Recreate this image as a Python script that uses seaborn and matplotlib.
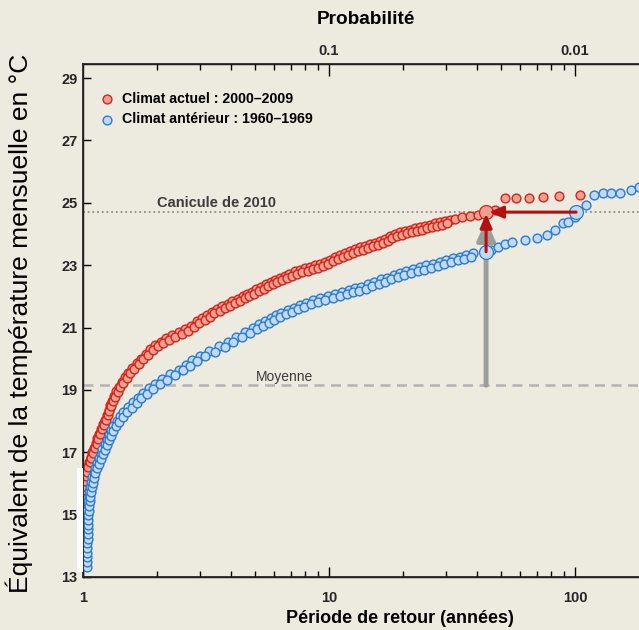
import matplotlib
matplotlib.use("Agg")
import matplotlib.pyplot as plt
from matplotlib.patches import Rectangle
from matplotlib.ticker import FixedLocator, FixedFormatter, NullFormatter
import seaborn as sns
import pandas as pd

# ---- data -------------------------------------------------------------
# Climat actuel : 2000-2009  (return period in years, temperature in °C)
actuel_periode = [
    1.000, 1.005, 1.012, 1.02, 1.03, 1.045, 1.06, 1.075, 1.09, 1.105,
    1.125, 1.145, 1.165, 1.185, 1.21, 1.23, 1.25, 1.27, 1.29, 1.31,
    1.335, 1.365, 1.40, 1.44, 1.48, 1.53, 1.58, 1.65, 1.72, 1.80,
    1.88, 1.97, 2.07, 2.18, 2.30, 2.45, 2.60, 2.75, 2.9, 3.05,
    3.2, 3.35, 3.5, 3.68, 3.87, 4.05, 4.25, 4.45, 4.65, 4.85,
    5.05, 5.3, 5.55, 5.8, 6.05, 6.3, 6.6, 6.9, 7.25, 7.6,
    8.0, 8.4, 8.8, 9.2, 9.65, 10.1, 10.6, 11.1, 11.6, 12.2,
    12.8, 13.4, 14.0, 14.7, 15.4, 16.1, 16.9, 17.7, 18.5, 19.4,
    20.3, 21.3, 22.3, 23.4, 24.5, 25.7, 26.9, 28.2, 29.5, 31.0,
    32.5, 34.6, 37.4, 40.2, 43.1, 47.3, 52, 57.6, 65, 74,
    86, 105,
    # second half of the sample
    1.002, 1.008, 1.016, 1.025, 1.037, 1.052, 1.067, 1.082, 1.097, 1.115,
    1.135, 1.155, 1.175, 1.197, 1.22, 1.24, 1.26, 1.28, 1.30, 1.322,
    1.35, 1.382, 1.42, 1.46, 1.505, 1.555, 1.615, 1.685, 1.76, 1.84,
    1.925, 2.02, 2.12, 2.24, 2.37, 2.52, 2.67, 2.82, 2.97, 3.12,
    3.27, 3.42, 3.59, 3.77, 3.96, 4.15, 4.35, 4.55, 4.75, 4.95,
    5.17, 5.42, 5.67, 5.92, 6.17, 6.45, 6.75, 7.07, 7.42, 7.8,
    8.2, 8.6, 9.0, 9.42, 9.87, 10.35, 10.85, 11.35, 11.9, 12.5,
    13.1, 13.7, 14.35, 15.05, 15.75, 16.5, 17.3, 18.1, 18.95, 19.85,
    20.8, 21.8, 22.85, 23.95, 25.1, 26.3, 27.55, 28.85, 30.2,
]
actuel_temp = [
    15.8, 15.95, 16.1, 16.25, 16.4, 16.55, 16.7, 16.85, 17.0, 17.15,
    17.3, 17.45, 17.6, 17.75, 17.9, 18.05, 18.2, 18.35, 18.5, 18.65,
    18.8, 18.95, 19.1, 19.25, 19.4, 19.55, 19.7, 19.85, 20.0, 20.15,
    20.3, 20.45, 20.55, 20.65, 20.75, 20.85, 20.95, 21.05, 21.2, 21.3,
    21.4, 21.5, 21.6, 21.68, 21.76, 21.84, 21.92, 22.0, 22.08, 22.15,
    22.22, 22.3, 22.38, 22.45, 22.52, 22.6, 22.66, 22.72, 22.8, 22.86,
    22.9, 22.95, 23.0, 23.04, 23.1, 23.18, 23.26, 23.33, 23.4, 23.46,
    23.52, 23.57, 23.62, 23.67, 23.72, 23.77, 23.85, 23.93, 24.0, 24.05,
    24.1, 24.14, 24.18, 24.22, 24.26, 24.3, 24.34, 24.38, 24.42, 24.45,
    24.49, 24.54, 24.56, 24.62, 24.71, 24.78, 25.16, 25.16, 25.16, 25.19,
    25.22, 25.26,
    # second half of the sample
    15.78, 15.93, 16.08, 16.23, 16.38, 16.53, 16.68, 16.83, 16.98, 17.13,
    17.28, 17.43, 17.58, 17.73, 17.88, 18.03, 18.18, 18.33, 18.48, 18.63,
    18.78, 18.93, 19.08, 19.23, 19.38, 19.53, 19.68, 19.83, 19.98, 20.13,
    20.28, 20.40, 20.50, 20.60, 20.70, 20.80, 20.90, 21.03, 21.15, 21.25,
    21.35, 21.45, 21.54, 21.62, 21.70, 21.78, 21.86, 21.94, 22.02, 22.08,
    22.16, 22.24, 22.32, 22.38, 22.46, 22.53, 22.59, 22.66, 22.73, 22.78,
    22.82, 22.88, 22.92, 22.97, 23.04, 23.12, 23.20, 23.26, 23.33, 23.39,
    23.44, 23.50, 23.54, 23.60, 23.64, 23.71, 23.79, 23.86, 23.92, 23.98,
    24.02, 24.06, 24.10, 24.14, 24.18, 24.22, 24.26, 24.30, 24.34,
]

# Climat antérieur : 1960-1969
anterieur_periode = [
    1.030, 1.030, 1.031, 1.031, 1.032, 1.032, 1.033, 1.034, 1.035, 1.036,
    1.037, 1.038, 1.040, 1.045, 1.05, 1.055, 1.06, 1.068, 1.08, 1.09,
    1.105, 1.12, 1.14, 1.16, 1.18, 1.20, 1.225, 1.25, 1.275, 1.30,
    1.33, 1.37, 1.41, 1.46, 1.52, 1.60, 1.67, 1.75, 1.85, 1.97,
    2.10, 2.25, 2.45, 2.62, 2.78, 2.98, 3.25, 3.57, 3.88, 4.2,
    4.55, 4.91, 5.2, 5.5, 5.8, 6.1, 6.4, 6.8, 7.2, 7.6,
    8.1, 8.6, 9.2, 9.9, 10.6, 11.3, 12.1, 12.8, 13.5, 14.4,
    15.3, 16.2, 17.2, 18.3, 19.4, 20.6, 22.0, 23.4, 24.9, 26.5,
    28.2, 30.0, 32.0, 34.0, 36.2, 38.4, 43.0, 45.5, 48.7, 52.0,
    55.5, 62.6, 70, 76.8, 82.7, 89.6, 93.6, 100, 111, 120,
    130, 140, 152, 169, 182,
    # second half of the sample
    1.040, 1.041, 1.041, 1.042, 1.042, 1.043, 1.044, 1.045, 1.046, 1.047,
    1.048, 1.049, 1.053, 1.058, 1.063, 1.068, 1.074, 1.084, 1.095, 1.108,
    1.123, 1.141, 1.161, 1.181, 1.202, 1.225, 1.25, 1.275, 1.30, 1.328,
    1.363, 1.403, 1.449, 1.505, 1.575, 1.651, 1.727, 1.817, 1.929, 2.054,
    2.195, 2.371, 2.56, 2.72, 2.906, 3.14, 3.44, 3.76, 4.07, 4.41,
    4.77, 5.1, 5.4, 5.7, 6.0, 6.3, 6.66, 7.06, 7.47, 7.92,
    8.43, 8.98, 9.63, 10.35, 11.06, 11.81, 12.56, 13.28, 14.08, 14.99,
    15.9, 16.86, 17.9, 19.04, 20.19, 21.5, 22.9, 24.39, 25.96, 27.62,
    29.38, 31.3, 33.3, 35.4, 37.6,
]
anterieur_temp = [
    13.35, 13.5, 13.65, 13.8, 13.95, 14.1, 14.25, 14.4, 14.55, 14.7,
    14.85, 15.0, 15.15, 15.3, 15.45, 15.6, 15.75, 15.9, 16.05, 16.2,
    16.35, 16.5, 16.65, 16.8, 16.95, 17.1, 17.25, 17.4, 17.55, 17.7,
    17.85, 18.0, 18.15, 18.3, 18.45, 18.6, 18.75, 18.9, 19.05, 19.2,
    19.35, 19.5, 19.65, 19.8, 19.95, 20.1, 20.25, 20.4, 20.55, 20.7,
    20.85, 21.0, 21.1, 21.2, 21.3, 21.4, 21.48, 21.56, 21.64, 21.72,
    21.8, 21.88, 21.96, 22.02, 22.08, 22.14, 22.2, 22.26, 22.31, 22.38,
    22.46, 22.54, 22.6, 22.68, 22.76, 22.82, 22.88, 22.93, 22.99, 23.05,
    23.11, 23.18, 23.24, 23.27, 23.33, 23.4, 23.43, 23.5, 23.59, 23.68,
    23.75, 23.82, 23.88, 23.98, 24.14, 24.36, 24.39, 24.55, 24.94, 25.26,
    25.32, 25.32, 25.32, 25.42, 25.51,
    # second half of the sample
    13.33, 13.48, 13.63, 13.78, 13.93, 14.08, 14.23, 14.38, 14.53, 14.68,
    14.83, 14.98, 15.13, 15.28, 15.43, 15.58, 15.73, 15.88, 16.03, 16.18,
    16.33, 16.48, 16.63, 16.78, 16.93, 17.08, 17.23, 17.38, 17.53, 17.68,
    17.83, 17.98, 18.13, 18.28, 18.43, 18.58, 18.73, 18.88, 19.03, 19.18,
    19.33, 19.48, 19.63, 19.78, 19.93, 20.08, 20.23, 20.38, 20.53, 20.68,
    20.83, 20.95, 21.05, 21.15, 21.25, 21.34, 21.42, 21.5, 21.58, 21.66,
    21.74, 21.82, 21.89, 21.95, 22.01, 22.07, 22.13, 22.185, 22.245, 22.32,
    22.4, 22.47, 22.54, 22.62, 22.69, 22.75, 22.805, 22.86, 22.92, 22.98,
    23.045, 23.11, 23.155, 23.2, 23.265,
]

# 2010 heat wave: equivalent temperature and its return period in each climate
canicule_2010 = 24.7
moyenne = 19.15
periode_2010_actuel = 43.5
periode_2010_anterieur = 101.0
temp_anterieur_a_43ans = 23.43

label_actuel = "Climat actuel : 2000–2009"
label_anterieur = "Climat antérieur : 1960–1969"
x_ticks = [1, 10, 100]
x_ticklabels = ["1", "10", "100"]
prob_ticks = [10, 100]
prob_ticklabels = ["0.1", "0.01"]
y_ticks = [13, 15, 17, 19, 21, 23, 25, 27, 29]

# ---- style ------------------------------------------------------------
BG = "#edeae0"
RED_FILL, RED_EDGE = "#e9a290", "#d6221a"
BLUE_FILL, BLUE_EDGE = "#c2d9f1", "#287cd0"
ARROW_RED = "#b3100f"

sns.set_theme(style="white")
FONT = ["Liberation Sans", "DejaVu Sans"]
plt.rcParams["font.family"] = FONT
plt.rcParams["text.color"] = "black"
plt.rcParams["axes.labelcolor"] = "black"

fig = plt.figure(figsize=(6.39, 6.30), dpi=100, facecolor=BG)
ax = fig.add_axes([83 / 639, 1 - 577 / 630, 556 / 639, (577 - 64) / 630])
ax.set_facecolor(BG)

df_actuel = pd.DataFrame({"periode": actuel_periode, "temp": actuel_temp})
df_anterieur = pd.DataFrame({"periode": anterieur_periode, "temp": anterieur_temp})

sns.scatterplot(data=df_actuel, x="periode", y="temp", ax=ax, s=40,
                color=RED_FILL, edgecolor=RED_EDGE, linewidth=1.0,
                label=label_actuel, zorder=3)
sns.scatterplot(data=df_anterieur, x="periode", y="temp", ax=ax, s=40,
                color=BLUE_FILL, edgecolor=BLUE_EDGE, linewidth=1.0,
                label=label_anterieur, zorder=3)

ax.set_xscale("log")
ax.set_xlim(1, 182)
ax.set_ylim(13, 29.45)

# reference lines
ax.axhline(canicule_2010, color="#8c8c8c", lw=1.3, ls=(0, (1.0, 1.6)), zorder=1)
ax.axhline(moyenne, color="#b3b3b3", lw=1.8, ls=(0, (4, 2.6)), zorder=1)
ax.text(6.1, 24.86, "Canicule de 2010", fontsize=10.5, color="#3c3c3c",
        ha="right", va="baseline", fontweight="bold", zorder=2)
ax.text(8.6, 19.3, "Moyenne", fontsize=10, color="#3c3c3c",
        ha="right", va="baseline", zorder=2)

# grey arrow: from the mean up to the heat wave
ax.annotate("", xy=(periode_2010_actuel, 24.45), xytext=(periode_2010_actuel, moyenne),
            arrowprops=dict(arrowstyle="-|>,head_length=1.0,head_width=0.45",
                            color="#9c9c9c", lw=3.5, shrinkA=0, shrinkB=0),
            zorder=2)

# highlighted points
ax.scatter([periode_2010_actuel], [canicule_2010], s=100, color=RED_FILL,
           edgecolor=RED_EDGE, linewidth=0.9, zorder=4)
ax.scatter([periode_2010_actuel, periode_2010_anterieur],
           [temp_anterieur_a_43ans, canicule_2010], s=100, color=BLUE_FILL,
           edgecolor=BLUE_EDGE, linewidth=0.9, zorder=4)

# red arrows
ax.annotate("", xy=(periode_2010_actuel, canicule_2010 - 0.05),
            xytext=(periode_2010_actuel, temp_anterieur_a_43ans),
            arrowprops=dict(arrowstyle="-|>,head_length=0.7,head_width=0.3",
                            color=ARROW_RED, lw=2.2, shrinkA=0, shrinkB=0),
            zorder=5)
ax.annotate("", xy=(periode_2010_actuel + 1.2, canicule_2010),
            xytext=(periode_2010_anterieur, canicule_2010),
            arrowprops=dict(arrowstyle="-|>,head_length=0.7,head_width=0.3",
                            color=ARROW_RED, lw=2.2, shrinkA=0, shrinkB=0),
            zorder=5)

# axes, ticks
for side in ("left", "bottom", "top"):
    ax.spines[side].set_visible(True)
    ax.spines[side].set_color("black")
    ax.spines[side].set_linewidth(1.0)
ax.spines["right"].set_visible(False)

minor = [2, 3, 4, 5, 6, 7, 8, 9, 20, 30, 40, 50, 60, 70, 80, 90]
ax.xaxis.set_major_locator(FixedLocator(x_ticks))
ax.xaxis.set_major_formatter(FixedFormatter(x_ticklabels))
ax.xaxis.set_minor_locator(FixedLocator(minor))
ax.xaxis.set_minor_formatter(NullFormatter())
ax.set_yticks(y_ticks)
ax.set_yticklabels([str(v) for v in y_ticks])
ax.tick_params(axis="x", which="major", direction="in", length=7, width=1,
               labelsize=10.5, pad=10, bottom=True, top=False, color="black")
ax.tick_params(axis="x", which="minor", direction="in", length=4, width=1,
               bottom=True, top=False, color="black")
ax.tick_params(axis="y", which="major", direction="in", length=6, width=1,
               labelsize=10.5, pad=4, left=True, right=False, color="black")
for lab in ax.get_xticklabels() + ax.get_yticklabels():
    lab.set_fontweight("bold")

ax2 = ax.twiny()
ax2.set_xscale("log")
ax2.set_xlim(ax.get_xlim())
ax2.spines["right"].set_visible(False)
ax2.xaxis.set_major_locator(FixedLocator(prob_ticks))
ax2.xaxis.set_major_formatter(FixedFormatter(prob_ticklabels))
ax2.xaxis.set_minor_locator(FixedLocator(minor))
ax2.xaxis.set_minor_formatter(NullFormatter())
ax2.tick_params(axis="x", which="major", direction="in", length=8.5, width=1,
                labelsize=10.5, pad=4, color="black")
ax2.tick_params(axis="x", which="minor", direction="in", length=4, width=1,
                color="black")
for lab in ax2.get_xticklabels():
    lab.set_fontweight("bold")
ax2.grid(False)
ax.grid(False)

ax.set_xlabel("Période de retour (années)", fontsize=13, fontweight="bold")
ax.xaxis.set_label_coords(0.57, -0.065)
ax.set_ylabel("Équivalent de la température mensuelle en °C", fontsize=19)
ax.yaxis.set_label_coords(-0.09, 0.495)
fig.text(366 / 639, 1 - 20 / 630, "Probabilité", fontsize=13.7, fontweight="bold",
         ha="center", va="center")

leg = ax.legend(loc="upper left", bbox_to_anchor=(0.0, 0.965), frameon=False,
                handletextpad=0.05, labelspacing=0.45, borderaxespad=0.3,
                prop={"family": FONT, "weight": "bold", "size": 10.2})
for h in leg.legend_handles:
    h.set_sizes([40])

# white strip on the left margin
fig.patches.append(Rectangle((77 / 639, 1 - 572 / 630), 6 / 639, 104 / 630,
                             transform=fig.transFigure, facecolor="white",
                             edgecolor="none", zorder=5))

fig.savefig("out.png", dpi=100, facecolor=BG)
